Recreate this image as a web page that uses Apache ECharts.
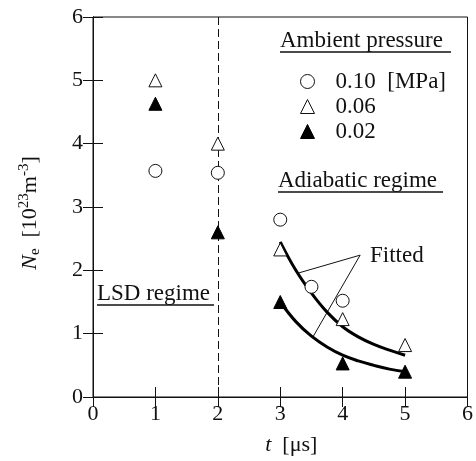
<!DOCTYPE html>
<html><head><meta charset="utf-8">
<script src="https://cdn.jsdelivr.net/npm/echarts@6/dist/echarts.min.js"></script>
<style>html,body{margin:0;padding:0;background:#fff}#c{width:476px;height:461px}</style>
</head><body><div id="c"></div>
<script>
// Data
const p010 = [[1, 3.57], [2, 3.54], [3, 2.80], [3.5, 1.74], [4, 1.52]];
const p006 = [[1, 5.00], [2, 4.00], [3, 2.33], [4, 1.23], [5, 0.82]];
const p002 = [[1, 4.63], [2, 2.60], [3, 1.50], [4, 0.53], [5, 0.40]];
const fitUpper = [[3, 2.45], [3.25, 2.00], [3.5, 1.64], [3.75, 1.34], [4, 1.11], [4.25, 0.95], [4.5, 0.83], [4.75, 0.74], [5, 0.66]];
const fitLower = [[3, 1.50], [3.25, 1.19], [3.5, 0.96], [3.75, 0.79], [4, 0.66], [4.25, 0.57], [4.5, 0.50], [4.75, 0.44], [5, 0.40]];
const pointer1 = [[4.28, 2.24], [3.30, 1.96]];
const pointer2 = [[4.28, 2.24], [3.53, 0.96]];
const boundaryT = 2;
const xTicks = [0, 6, 1];
const yTicks = [0, 6, 1];

const FONT = '"Liberation Serif", "DejaVu Serif", serif';
const chart = echarts.init(document.getElementById('c'));
const axisCommon = {
  axisLine: { show: true, lineStyle: { color: '#111', width: 1 } },
  axisTick: { show: true, inside: true, length: 10, lineStyle: { color: '#111' } },
  splitLine: { show: false }
};
chart.setOption({
  animation: false,
  backgroundColor: '#fff',
  grid: { left: 93, right: 6, top: 17, bottom: 64, show: true, borderColor: '#111', borderWidth: 1 },
  xAxis: [
    Object.assign({ type: 'value', min: xTicks[0], max: xTicks[1], interval: xTicks[2], position: 'bottom',
      axisLabel: { fontFamily: FONT, fontSize: 22, color: '#111', margin: 6 },
      name: '{i|t}  [μs]', nameLocation: 'middle', nameGap: 37,
      nameTextStyle: { fontFamily: FONT, fontSize: 22, color: '#111', padding: [0, 0, 0, 22],
        rich: { i: { fontFamily: FONT, fontSize: 22, fontStyle: 'italic', color: '#111' } } }
    }, axisCommon),
    Object.assign({ type: 'value', min: xTicks[0], max: xTicks[1], interval: xTicks[2], position: 'top',
      axisLabel: { show: false } }, axisCommon)
  ],
  yAxis: [
    Object.assign({ type: 'value', min: yTicks[0], max: yTicks[1], interval: yTicks[2], position: 'left',
      axisLabel: { fontFamily: FONT, fontSize: 22, color: '#111', margin: 10 },
      name: '{i|N}{sub|e}  [10{sup|23}m{sup|-3}]', nameLocation: 'middle', nameGap: 50, nameRotate: 90,
      nameTextStyle: { fontFamily: FONT, fontSize: 22, color: '#111', padding: [0, 12, 0, 0],
        rich: {
          i: { fontFamily: FONT, fontSize: 22, fontStyle: 'italic', color: '#111' },
          sub: { fontFamily: FONT, fontSize: 15, color: '#111', padding: [10, 0, 0, 0] },
          sup: { fontFamily: FONT, fontSize: 15, color: '#111', padding: [0, 0, 11, 0] }
        } }
    }, axisCommon),
    Object.assign({ type: 'value', min: yTicks[0], max: yTicks[1], interval: yTicks[2], position: 'right',
      axisLabel: { show: false } }, axisCommon)
  ],
  legend: {
    orient: 'vertical', left: 295, top: 65, itemWidth: 14, itemHeight: 14, itemGap: 2,
    data: ['0.10', '0.06', '0.02'],
    formatter: n => n === '0.10' ? n + '  [MPa]' : n,
    itemStyle: { borderWidth: 1 },
    textStyle: { fontFamily: FONT, fontSize: 23, color: '#111', padding: [0, 0, 0, 16] }
  },
  series: [
    { name: '0.10', type: 'scatter', data: p010, symbol: 'circle', symbolSize: 13,
      itemStyle: { color: '#fff', borderColor: '#111', borderWidth: 1, opacity: 1 }, z: 5,
      markLine: { silent: true, symbol: 'none', label: { show: false },
        lineStyle: { color: '#111', type: [8, 4], width: 1 }, data: [{ xAxis: boundaryT }] } },
    { name: '0.06', type: 'scatter', data: p006, symbol: 'triangle', symbolSize: 13,
      itemStyle: { color: '#fff', borderColor: '#111', borderWidth: 1, opacity: 1 }, z: 5 },
    { name: '0.02', type: 'scatter', data: p002, symbol: 'triangle', symbolSize: 13,
      itemStyle: { color: '#000', borderColor: '#000', borderWidth: 1, opacity: 1 }, z: 5 },
    { type: 'line', data: fitUpper, smooth: 0.4, symbol: 'none', lineStyle: { color: '#000', width: 3 }, z: 3 },
    { type: 'line', data: fitLower, smooth: 0.4, symbol: 'none', lineStyle: { color: '#000', width: 3 }, z: 3 },
    { type: 'line', data: pointer1, symbol: 'none', lineStyle: { color: '#111', width: 1 }, z: 2 },
    { type: 'line', data: pointer2, symbol: 'none', lineStyle: { color: '#111', width: 1 }, z: 2 }
  ],
  graphic: [
    { type: 'text', left: 280, top: 29, style: { text: 'Ambient pressure', font: '23px ' + FONT, fill: '#111' } },
    { type: 'line', shape: { x1: 280, y1: 52, x2: 451, y2: 52 }, style: { stroke: '#111', lineWidth: 1.5 } },
    { type: 'text', left: 278, top: 169, style: { text: 'Adiabatic regime', font: '23px ' + FONT, fill: '#111' } },
    { type: 'line', shape: { x1: 278, y1: 192, x2: 443, y2: 192 }, style: { stroke: '#111', lineWidth: 1.5 } },
    { type: 'text', left: 97, top: 282, style: { text: 'LSD regime', font: '23px ' + FONT, fill: '#111' } },
    { type: 'line', shape: { x1: 97, y1: 305, x2: 214, y2: 305 }, style: { stroke: '#111', lineWidth: 1.5 } },
    { type: 'text', left: 370, top: 244, style: { text: 'Fitted', font: '23px ' + FONT, fill: '#111' } }
  ]
});
</script></body></html>
